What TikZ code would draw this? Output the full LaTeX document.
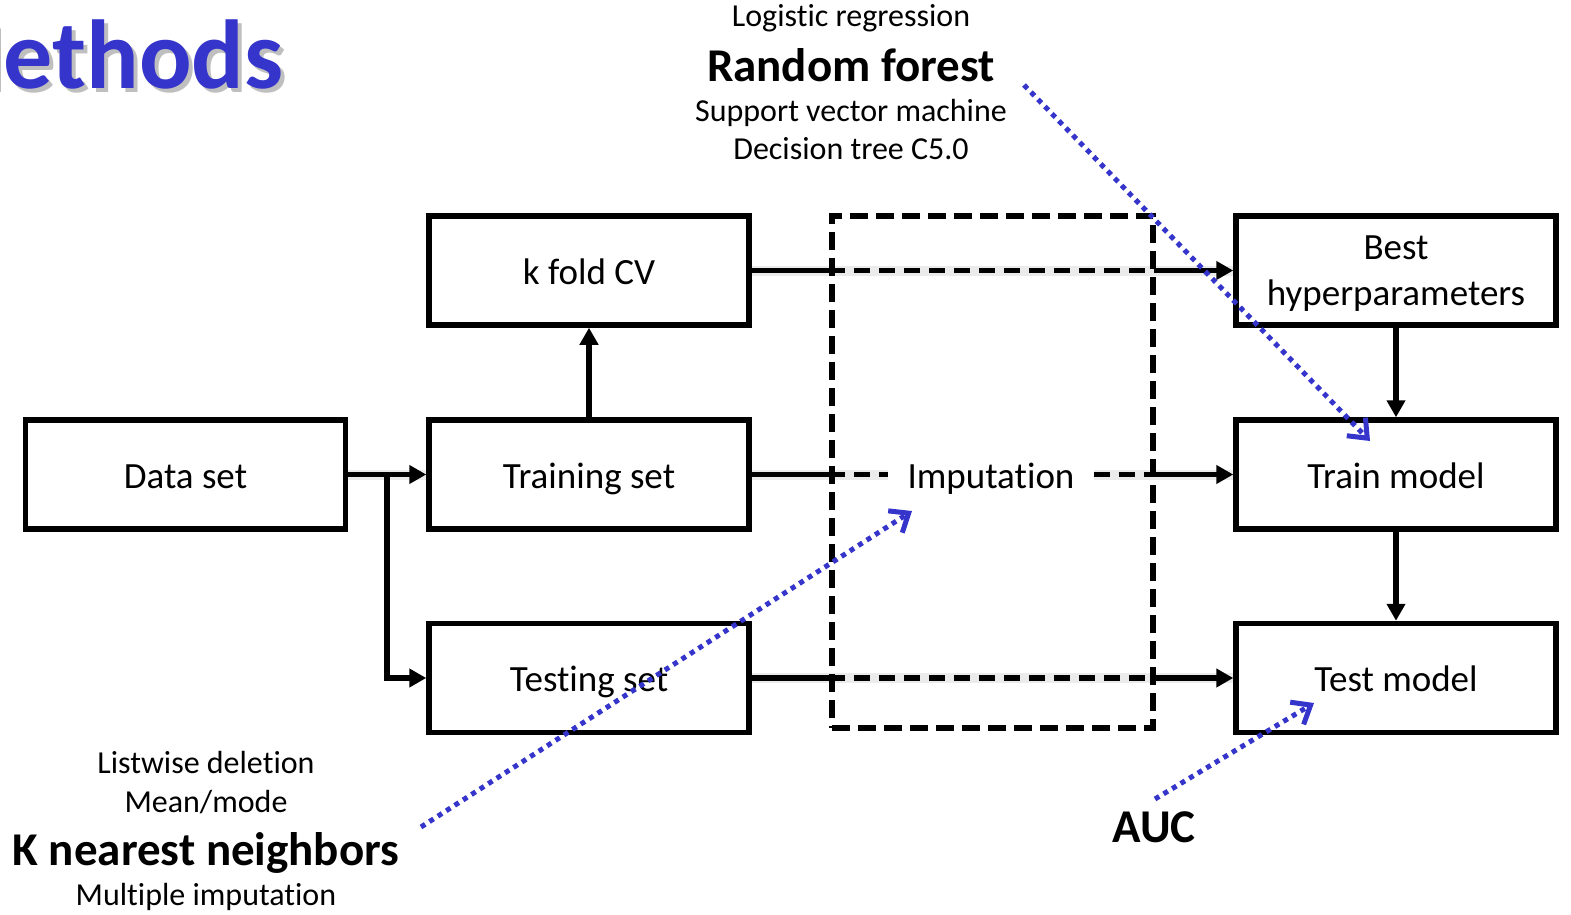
\documentclass[tikz,border=0pt]{standalone}
\usepackage{fontspec}
\setmainfont{Carlito}[Ligatures=NoCommon]
\usetikzlibrary{arrows.meta}
\definecolor{navy}{HTML}{3535CC}

\begin{document}
\begin{tikzpicture}[x=1pt,y=-1pt,
  box/.style={draw, line width=5.5pt, minimum width=320pt, minimum height=109pt,
    inner sep=0pt, font=\fontsize{37}{46}\selectfont, text height=27pt, text depth=0pt},
  region/.style={draw, line width=5.5pt, dash pattern=on 18pt off 8pt,
    minimum width=321pt, minimum height=512pt, inner sep=0pt},
  solidline/.style={line width=5.5pt},
  flow/.style={line width=5.5pt, -{Triangle[length=17pt,width=18pt]}},
  dashline/.style={line width=5.5pt, dash pattern=on 16pt off 9pt},
  hint/.style={draw=navy, line width=5pt, dash pattern=on 5pt off 5pt,
    -{Straight Barb[length=16pt,width=26pt,line width=5pt]}},
  shade/.style={draw=black, line width=10pt, opacity=0.08},
  small/.style={font=\fontsize{32}{38}\selectfont, anchor=base},
  big/.style={font=\fontsize{47}{56}\selectfont\bfseries, anchor=base},
]
\useasboundingbox (0,0) rectangle (1571,915);

% title with a soft drop shadow
\node[anchor=base east, text=black, opacity=0.25,
      font=\fontsize{98}{112}\selectfont\bfseries] (titleshadow) at (291,93) {Methods};
\node[anchor=base east, text=navy,
      font=\fontsize{98}{112}\selectfont\bfseries] (title) at (287,89) {Methods};

% boxes
\node[box] (data)  at (185.5,474.5) {Data set};
\node[box] (train) at (589,474.5)   {Training set};
\node[box] (kfold) at (589,270.5)   {k fold CV};
\node[box] (test)  at (589,678)     {Testing set};
\node[box] (best) at (1396,270.5) {};
\node[font=\fontsize{37}{46}\selectfont, align=center, anchor=base] (bestlabel)
      at (1396,305) {Best\\hyperparameters};
\node[box] (trainm) at (1396,474.5) {Train model};
\node[box] (testm)  at (1396,678)   {Test model};

% imputation stage
\node[region] (stage) at (992.5,472) {};
\node[font=\fontsize{37}{46}\selectfont, text height=27pt, text depth=0pt,
      inner xsep=19pt, inner ysep=0pt, fill=white] (imp) at (991,474.5) {Imputation};

\coordinate (split) at (387,474.5);

% shadows under the connectors
\begin{scope}[yshift=-6pt]
  \draw[shade] (kfold.east) -- (best.west);
  \draw[shade] (train.east) -- (imp.west);
  \draw[shade] (imp.east) -- (trainm.west);
  \draw[shade] (test.east) -- (testm.west);
  \draw[shade] (data.east) -- (train.west);
\end{scope}

% connectors
\draw[flow] (data.east) -- (train.west);
\draw[flow] (split) |- (test.west);
\draw[flow] (train.north) -- (kfold.south);
\draw[flow] (best.south) -- (trainm.north);
\draw[flow] (trainm.south) -- (testm.north);

\draw[solidline] (kfold.east) -- (kfold.east -| stage.west);
\draw[dashline]  (kfold.east -| stage.west) -- (kfold.east -| stage.east);
\draw[flow]      (kfold.east -| stage.east) -- (best.west);

\draw[solidline] (train.east) -- (train.east -| stage.west);
\draw[dashline]  (train.east -| stage.west) -- (imp.west);
\draw[dashline]  (imp.east) -- (imp.east -| stage.east);
\draw[flow]      (imp.east -| stage.east) -- (trainm.west);

\draw[solidline] (test.east) -- (test.east -| stage.west);
\draw[dashline]  (test.east -| stage.west) -- (test.east -| stage.east);
\draw[flow]      (test.east -| stage.east) -- (testm.west);

% model choices
\node[small] (lr)  at (851,27)  {Logistic regression};
\node[big] (rf) at (851,82) {Random forest};
\node[small] (svm) at (851,122) {Support vector machine};
\node[small] (dt)  at (851,160) {Decision tree C5.0};

% imputation choices
\node[small] (lw)  at (206,773) {Listwise deletion};
\node[small] (mm)  at (206,812) {Mean/mode};
\node[big]   (knn) at (206,865) {K nearest neighbors};
\node[small] (mi)  at (206,905) {Multiple imputation};

% metric
\node[big] (auc) at (1154,842) {AUC};

% pointers
\coordinate (rfstart)  at (1024,85);
\coordinate (rfend)    at (1370,441);
\coordinate (knnstart) at (421,827);
\coordinate (knnend)   at (912,511);
\coordinate (aucstart) at (1155,799);
\coordinate (aucend)   at (1314,703);
\draw[hint] (rfstart) -- (rfend);
\draw[hint] (knnstart) -- (knnend);
\draw[hint] (aucstart) -- (aucend);
\end{tikzpicture}
\end{document}
